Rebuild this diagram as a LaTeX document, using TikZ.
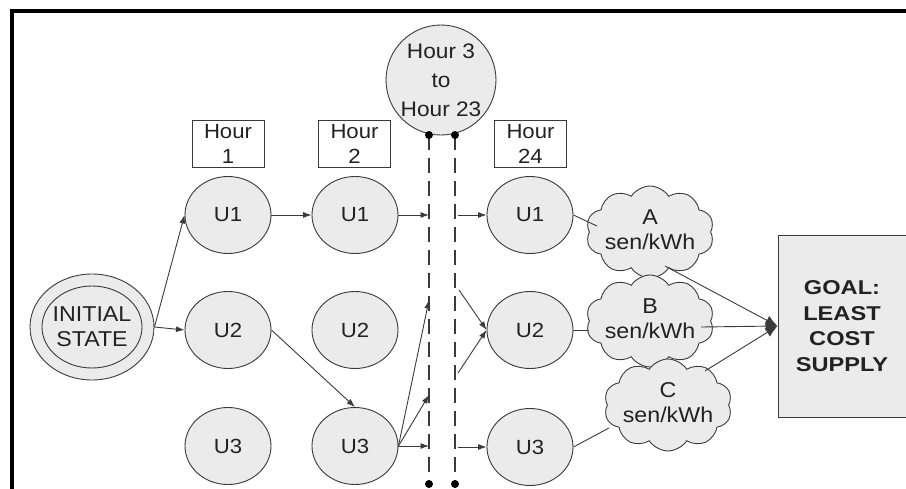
\documentclass[tikz,border=0pt]{standalone}
\usepackage{fontspec}
\setmainfont{Liberation Sans}[FakeStretch=1.08]
\newfontfamily\goalfont{Liberation Sans}[FakeStretch=1.18]
\usetikzlibrary{shapes.geometric,shapes.symbols,arrows.meta,calc}
\definecolor{nodefill}{HTML}{EBEBEB}
\definecolor{edgecol}{HTML}{3A3A3A}
\definecolor{txt}{HTML}{222222}
\begin{document}
\begin{tikzpicture}[x=1pt,y=-1pt,
  unit/.style={ellipse,draw=edgecol,fill=nodefill,line width=0.9pt,minimum width=86pt,minimum height=77pt,inner sep=0pt,font=\fontsize{20.5}{24}\selectfont,text=txt},
  hourbox/.style={rectangle,draw=edgecol,fill=white,line width=0.9pt,minimum width=72pt,minimum height=47pt,inner sep=0pt,align=center,font=\fontsize{20.5}{25}\selectfont,text=txt},
  costcloud/.style={cloud,cloud puffs=10,cloud puff arc=115,draw=edgecol,fill=nodefill,line width=0.9pt,minimum width=128pt,minimum height=92pt,inner sep=0pt},
  cloudtext/.style={align=center,inner sep=0pt,font=\fontsize{21.5}{25}\selectfont,text=txt},
  arr/.style={-{Latex[length=8.5pt,width=6pt]},line width=0.9pt,draw=edgecol},
  bigarr/.style={-{Latex[length=12pt,width=10pt]},line width=0.9pt,draw=edgecol},
  plain/.style={line width=0.9pt,draw=edgecol},
  dline/.style={line width=2.6pt,draw=edgecol,dash pattern=on 15pt off 8pt},
  enddot/.style={circle,fill=black,inner sep=0pt,minimum size=8pt}
]
\useasboundingbox (0,0) rectangle (906,488);
% frame
\draw[line width=3.5pt,black] (12,495) -- (12,11) -- (915,11);

% initial state
\node[ellipse,draw=edgecol,fill=nodefill,line width=0.9pt,minimum width=124pt,minimum height=106pt,inner sep=0pt] (init) at (92,327) {};
\draw[edgecol,line width=0.9pt] (init.center) ellipse [x radius=50, y radius=41];
\node[align=center,font=\fontsize{21.5}{25}\selectfont,text=txt] (initt) at (init.center) {INITIAL\\STATE};

% hour labels
\node[hourbox] (h1) at (228,143.5) {Hour\\1};
\node[hourbox] (h2) at (354.5,143.5) {Hour\\2};
\node[hourbox] (h24) at (530.5,143.5) {Hour\\24};
\node[circle,draw=edgecol,fill=nodefill,line width=0.9pt,minimum size=110pt,inner sep=0pt,align=center,font=\fontsize{21}{29}\selectfont,text=txt] (h3) at (441,80) {Hour 3\\to\\Hour 23};

% units
\node[unit] (u1a) at (228,215) {U1};
\node[unit] (u2a) at (228,330) {U2};
\node[unit] (u3a) at (228,446) {U3};
\node[unit] (u1b) at (355,215) {U1};
\node[unit] (u2b) at (355,330) {U2};
\node[unit] (u3b) at (355,446) {U3};
\node[unit] (u1c) at (530,215) {U1};
\node[unit] (u2c) at (530,330) {U2};
\node[unit] (u3c) at (530,447) {U3};

% clouds
\node[costcloud] (ca) at (650,232) {};
\node[cloudtext] (cat) at (650,230) {A\\sen/kWh};
\node[costcloud] (cb) at (650,321) {};
\node[cloudtext] (cbt) at (650,319) {B\\sen/kWh};
\node[costcloud] (cc) at (668,405) {};
\node[cloudtext] (cct) at (668,403) {C\\sen/kWh};

% goal
\node[rectangle,draw=edgecol,fill=nodefill,line width=0.9pt,minimum width=140pt,minimum height=182pt,inner sep=0pt] (goal) at (848,326) {};
\node[align=center,font=\goalfont\fontsize{20}{25.7}\selectfont\bfseries,text=txt] (goalt) at (842,326) {GOAL:\\LEAST\\COST\\SUPPLY};

% dashed lines
\coordinate (d1t) at (429,135);
\coordinate (d1b) at (429,484);
\coordinate (d2t) at (455,135);
\coordinate (d2b) at (455,484);
\draw[dline] (d1t) -- (d1b);
\draw[dline] (d2t) -- (d2b);
\node[enddot] (dot1) at (d1t) {};
\node[enddot] (dot2) at (d1b) {};
\node[enddot] (dot3) at (d2t) {};
\node[enddot] (dot4) at (d2b) {};

% coordinates on the dashed lines
\coordinate (a1) at (429,215);
\coordinate (a2) at (429,300);
\coordinate (a3) at (429,395);
\coordinate (a4) at (429,446);
\coordinate (b1) at (458,215);
\coordinate (b2) at (459,290);
\coordinate (b3) at (458,373);
\coordinate (b4) at (458,447);

% connectors
\draw[arr] (init.east) -- (u1a.west);
\draw[arr] (init.east) -- (u2a.west);
\draw[arr] (u1a.east) -- (u1b.west);
\draw[arr] (u2a.east) -- (u3b.north);
\draw[arr] (u1b.east) -- (a1);
\draw[arr] (u3b.east) -- (a2);
\draw[arr] (u3b.east) -- (a3);
\draw[arr] (u3b.east) -- (a4);
\draw[arr] (b1) -- (u1c.west);
\draw[arr] (b2) -- (u2c.west);
\draw[arr] (b3) -- (u2c.west);
\draw[arr] (b4) -- (u3c.west);

\draw[plain] (u1c.east) -- ($(ca.west)+(8,-6)$);
\draw[plain] (u2c.east) -- (u2c.east -| cb.west);
\draw[plain] (u3c.east) -- ($(cc.west)+(2,23)$);

\draw[bigarr] ($(ca.center)+(15,34)$) -- (goal.west);
\draw[bigarr] ($(cb.east)+(-10,6)$) -- (goal.west);
\draw[bigarr] ($(cc.center)+(37,-34)$) -- (goal.west);
\end{tikzpicture}
\end{document}
